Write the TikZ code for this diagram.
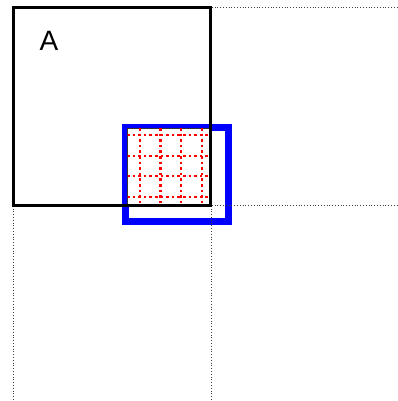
\documentclass[tikz,border=0pt]{standalone}
\usepackage{fontspec}
\setmainfont{Liberation Sans}
\tikzset{
  helpline/.style={line width=0.8pt, dotted, black!75},
  bigsquare/.style={line width=3pt, black},
  bluebox/.style={line width=7pt, blue},
  innerbox/.style={fill=white, draw=black!80, line width=0.9pt},
  redgrid/.style={red, line width=2.6pt, dash pattern=on 2.6pt off 3pt},
}
\begin{document}
\begin{tikzpicture}[x=1pt,y=-1pt]
\useasboundingbox (0,0) rectangle (398,401);
% blue rectangle
\draw[bluebox] (125.5,127.5) rectangle (228.5,221.5);
% inner white box with red dotted grid
\draw[innerbox] (127,128) rectangle (211,205);
\begin{scope}
  \clip (127.5,128.5) rectangle (210.5,204.5);
  \foreach \xx in {140,160.5,181,202}
    \draw[redgrid] (\xx,128) -- (\xx,205);
  \foreach \yy in {135,156,176,197}
    \draw[redgrid] (127,\yy) -- (211,\yy);
\end{scope}
% dotted help lines
\draw[helpline] (13,7) -- (398,7);
\draw[helpline] (13,205) -- (398,205);
\draw[helpline] (13,7) -- (13,401);
\draw[helpline] (211,7) -- (211,401);
% big black square
\draw[bigsquare] (13.5,7.5) rectangle (210.5,205);
\node[font=\fontsize{28}{32}\selectfont, inner sep=0pt] (labelA) at (49,40.5) {A};
\end{tikzpicture}
\end{document}
